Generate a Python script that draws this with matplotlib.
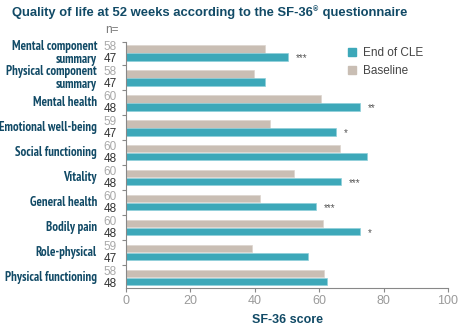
import matplotlib
matplotlib.use("Agg")
import matplotlib.pyplot as plt
from matplotlib import font_manager
import numpy as np

# data (top to bottom)
categories = ["Mental component\nsummary", "Physical component\nsummary", "Mental health",
              "Emotional well-being", "Social functioning", "Vitality", "General health",
              "Bodily pain", "Role-physical", "Physical functioning"]
baseline = [43.2, 39.7, 60.6, 44.7, 66.5, 52.2, 41.6, 61.2, 39.1, 61.5]
end_cle = [50.3, 43.2, 72.7, 65.2, 74.8, 66.8, 59.0, 72.7, 56.5, 62.4]
n_baseline = [58, 58, 60, 59, 60, 60, 60, 60, 59, 58]
n_end = [47, 47, 48, 47, 48, 48, 48, 48, 47, 48]
stars = ["***", "", "**", "*", "", "***", "***", "*", "", ""]
x_ticks = [0, 20, 40, 60, 80, 100]

plt.rcParams['font.family'] = ['Liberation Sans', 'DejaVu Sans']

# look for a condensed bold face for the category labels
cond_file = None
for f in font_manager.fontManager.ttflist:
    low = f.fname.lower()
    if ('condensed' in low or 'narrow' in low) and 'bold' in low and 'italic' not in low and 'oblique' not in low:
        cond_file = f.fname
        if 'narrow' in low or 'roboto' in low:
            break
if cond_file:
    label_fp = font_manager.FontProperties(fname=cond_file, size=8.5)
else:
    label_fp = font_manager.FontProperties(family='Liberation Sans', weight='bold', size=8.5)

teal = '#3da8b9'
beige = '#c9beb4'
navy = '#114a66'

fig = plt.figure(figsize=(4.58, 3.26), dpi=100)
ax = fig.add_axes([126/458, 1-288/326, 322/458, (288-41.7)/326])

y = np.arange(len(categories))
h = 0.3
ax.barh(y - 0.16, baseline, height=h, color=beige, edgecolor='#ddd5ce', linewidth=0.5)
ax.barh(y + 0.16, end_cle, height=h, color=teal, edgecolor='#8fd0da', linewidth=0.5)

for i in range(len(categories)):
    if stars[i]:
        ax.text(end_cle[i] + 2.3, y[i] + 0.2, stars[i], fontsize=7, color='#555555', va='center')

ax.set_xlim(0, 100)
ax.set_ylim(9.42, -0.45)
ax.set_xticks(x_ticks)
ax.set_xticklabels([str(t) for t in x_ticks], color='#9a9a9a', fontsize=9)
ax.set_yticks([-0.45] + list(np.arange(0.5, 9, 1)))
ax.set_yticklabels([])
ax.tick_params(axis='y', length=3, color='#888888', width=0.8)
ax.tick_params(axis='x', length=3, color='#888888', width=0.8, pad=2)
for s in ['top', 'right']:
    ax.spines[s].set_visible(False)
for s in ['left', 'bottom']:
    ax.spines[s].set_color('#888888')
    ax.spines[s].set_linewidth(0.8)
ax.set_xlabel("SF-36 score", fontsize=9, fontweight='bold', color=navy, labelpad=5)

# category labels and n counts
trans = matplotlib.transforms.blended_transform_factory(fig.transFigure, ax.transData)
labels = []
for i, cat in enumerate(categories):
    t = fig.text(97/458, y[i], cat, fontproperties=label_fp, ha='right', va='center',
                 color=navy, linespacing=0.95, transform=trans)
    labels.append(t)
    ax.annotate(str(n_baseline[i]), xy=(0, y[i] - 0.23), xycoords=('axes fraction', 'data'),
                xytext=(-16, 0), textcoords='offset points', ha='left', va='center',
                fontsize=8.5, color='#a8a8a8')
    ax.annotate(str(n_end[i]), xy=(0, y[i] + 0.24), xycoords=('axes fraction', 'data'),
                xytext=(-16, 0), textcoords='offset points', ha='left', va='center',
                fontsize=8.5, color='#333333')
fig.text(105/458, 1-30/326, "n=", fontsize=8.5, color='#777777', va='center')

# size the labels so the widest one fills the 97 px column
fig.canvas.draw()
r = fig.canvas.get_renderer()
widest = max(t.get_window_extent(r).width for t in labels)
s = min(9.5, 8.5 * 96 / widest)
for t in labels:
    t.set_fontsize(s)

# legend
ax.legend([plt.Rectangle((0, 0), 1, 1, color=teal), plt.Rectangle((0, 0), 1, 1, color=beige)],
          ["End of CLE", "Baseline"], loc='upper left', bbox_to_anchor=(0.655, 1.02),
          frameon=False, fontsize=8.5, handlelength=0.7, handleheight=0.7,
          handletextpad=0.6, labelspacing=0.5, labelcolor='#444444')

# title with superscript ®
t1 = fig.text(12/458, 1-13/326, "Quality of life at 52 weeks according to the SF-36",
              fontsize=9.4, fontweight='bold', color=navy, va='center')
bb = t1.get_window_extent(r)
t2 = fig.text(bb.x1/458 + 0.001, 1-10/326, "®", fontsize=5, fontweight='bold', color=navy, va='center')
bb2 = t2.get_window_extent(r)
fig.text(bb2.x1/458, 1-13/326, " questionnaire", fontsize=9.4, fontweight='bold', color=navy, va='center')

fig.savefig("out.png", dpi=100)
